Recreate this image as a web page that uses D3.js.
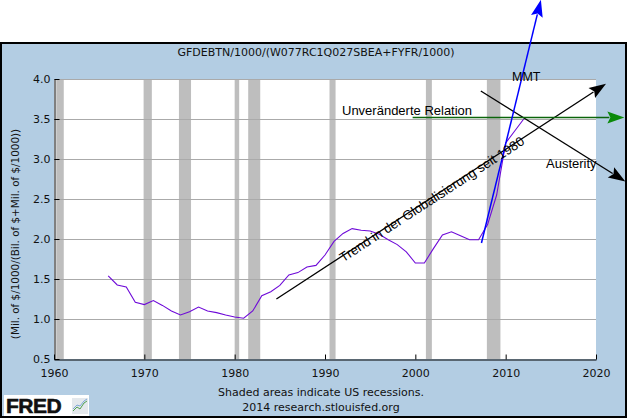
<!DOCTYPE html>
<html>
<head>
<meta charset="utf-8">
<script src="https://cdn.jsdelivr.net/npm/d3@7"></script>
<style>
  html, body { margin: 0; padding: 0; background: #fff; }
  svg { display: block; }
</style>
</head>
<body>
<svg id="chart" width="630" height="420"></svg>
<script>
// ---------------- DATA ----------------
const years = [1966,1967,1968,1969,1970,1971,1972,1973,1974,1975,1976,1977,1978,1979,
  1980,1981,1982,1983,1984,1985,1986,1987,1988,1989,1990,1991,1992,1993,1994,1995,
  1996,1997,1998,1999,2000,2001,2002,2003,2004,2005,2006,2007,2008,2009,2010,2011,2012];
const values = [1.54,1.425,1.40,1.21,1.18,1.23,1.17,1.10,1.05,1.09,1.15,1.10,1.08,1.05,
  1.025,1.01,1.10,1.29,1.34,1.42,1.55,1.58,1.65,1.67,1.80,1.97,2.07,2.13,2.11,2.10,
  2.06,1.99,1.93,1.84,1.70,1.70,1.88,2.05,2.09,2.04,1.99,1.99,2.18,2.55,3.20,3.35,3.50];

const recessionStarts = [1960.25,1969.92,1973.83,1980.00,1981.50,1990.50,2001.17,2007.92];
const recessionEnds   = [1961.08,1970.83,1975.17,1980.50,1982.83,1991.17,2001.83,2009.42];

const xTicks = [1960,1970,1980,1990,2000,2010,2020];
const yTicks = [0.5,1.0,1.5,2.0,2.5,3.0,3.5,4.0];

const titleText = "GFDEBTN/1000/(W077RC1Q027SBEA+FYFR/1000)";
const yLabelText = "(Mil. of $/1000/(Bil. of $+Mil. of $/1000))";
const footer1 = "Shaded areas indicate US recessions.";
const footer2 = "2014 research.stlouisfed.org";

// annotation arrows in data coordinates [year, value]
const arrowNames  = ["trend","austerity","unchanged","mmt"];
const arrowStarts = [[1984.62,1.25],[2007.25,3.85],[1999.70,3.52],[2007.32,1.95]];
const arrowEnds   = [[2021.11,3.94],[2023.25,2.72],[2023.14,3.52],[2013.90,4.99]];
const arrowLabels = ["Trend in der Globalisierung seit 1980","Austerity","Unveränderte Relation","MMT"];

// ---------------- DRAW ----------------
const svg = d3.select("#chart");
const W = 630, H = 420;
const plot = {left: 54, right: 596, top: 79, bottom: 359};

const x = d3.scaleLinear().domain([1960, 2020]).range([plot.left, plot.right]);
const y = d3.scaleLinear().domain([0.5, 4.0]).range([plot.bottom, plot.top]);

svg.append("rect").attr("width", W).attr("height", H).attr("fill", "#fff");

// frame
svg.append("rect")
  .attr("x", 1).attr("y", 43).attr("width", 625).attr("height", 374)
  .attr("fill", "#B3CDE3").attr("stroke", "#000").attr("stroke-width", 2);

// title
svg.append("text").attr("x", 316).attr("y", 56)
  .attr("text-anchor", "middle")
  .attr("font-family", "DejaVu Sans").attr("font-size", 11).attr("fill", "#111")
  .text(titleText);

// plot background
svg.append("rect")
  .attr("x", plot.left).attr("y", plot.top)
  .attr("width", plot.right - plot.left).attr("height", plot.bottom - plot.top)
  .attr("fill", "#fff");

// recessions
svg.append("g").selectAll("rect")
  .data(recessionStarts.map((s, i) => [s, recessionEnds[i]]))
  .join("rect")
  .attr("x", d => x(d[0])).attr("y", plot.top)
  .attr("width", d => x(d[1]) - x(d[0]))
  .attr("height", plot.bottom - plot.top)
  .attr("fill", "#BEBEBE");

// gridlines
svg.append("g").selectAll("line")
  .data(yTicks.filter(v => v > 0.5))
  .join("line")
  .attr("x1", plot.left).attr("x2", plot.right)
  .attr("y1", d => Math.round(y(d)) + 0.5).attr("y2", d => Math.round(y(d)) + 0.5)
  .attr("stroke", "#AAAAAA").attr("stroke-width", 1);

// series
const pts = years.map((yr, i) => [yr, values[i]]);
svg.append("path")
  .datum(pts)
  .attr("fill", "none")
  .attr("stroke", "#6E0AD8")
  .attr("stroke-width", 1.1)
  .attr("d", d3.line().x(d => x(d[0])).y(d => y(d[1])));

// axes
const xAxis = d3.axisBottom(x).tickValues(xTicks).tickFormat(d3.format("d"))
  .tickSizeInner(-5).tickSizeOuter(0).tickPadding(10);
const gx = svg.append("g").attr("transform", `translate(0,${plot.bottom + 0.5})`).call(xAxis);
gx.selectAll("text").attr("font-family", "DejaVu Sans").attr("font-size", 11).attr("fill", "#111");

const yAxis = d3.axisLeft(y).tickValues(yTicks).tickFormat(d3.format(".1f"))
  .tickSizeInner(-5).tickSizeOuter(0).tickPadding(4);
const gy = svg.append("g").attr("transform", `translate(${plot.left + 0.5},0)`).call(yAxis);
gy.selectAll("text").attr("font-family", "DejaVu Sans").attr("font-size", 11).attr("fill", "#111");
[gx, gy].forEach(g => {
  g.select(".domain").attr("stroke", "#000");
  g.selectAll(".tick line").attr("stroke", "#000");
});

// y label
svg.append("text")
  .attr("transform", "translate(19,234) rotate(-90)")
  .attr("text-anchor", "middle")
  .attr("font-family", "DejaVu Sans").attr("font-size", 10.4).attr("fill", "#111")
  .text(yLabelText);

// footer
svg.append("text").attr("x", 321).attr("y", 396).attr("text-anchor", "middle")
  .attr("font-family", "DejaVu Sans").attr("font-size", 11).attr("fill", "#111").text(footer1);
svg.append("text").attr("x", 321).attr("y", 411).attr("text-anchor", "middle")
  .attr("font-family", "DejaVu Sans").attr("font-size", 11).attr("fill", "#111").text(footer2);

// FRED logo
const logo = svg.append("g");
logo.append("rect").attr("x", 4).attr("y", 395).attr("width", 85).attr("height", 21).attr("fill", "#fff");
logo.append("text").attr("x", 6).attr("y", 413)
  .attr("font-family", "Liberation Sans").attr("font-weight", "bold").attr("font-size", 21)
  .attr("letter-spacing", -0.5).attr("fill", "#111").attr("stroke", "#111").attr("stroke-width", 0.6)
  .text("FRED");
logo.append("rect").attr("x", 72).attr("y", 398).attr("width", 16).attr("height", 16).attr("fill", "#E4E8EC");
logo.append("path").attr("d", "M73,411 L77,407 L80,409 L84,403 L87,401").attr("fill", "none").attr("stroke", "#4FA04F").attr("stroke-width", 1);
logo.append("path").attr("d", "M73,409 L77,405 L80,406 L84,401 L87,399").attr("fill", "none").attr("stroke", "#7FA7D8").attr("stroke-width", 1);

// annotation arrows
const arrowStyle = {
  trend:     {line: "#000", head: "#000", w: 1.3},
  austerity: {line: "#000", head: "#000", w: 1.3},
  unchanged: {line: "#0B650B", head: "#0A8A0A", w: 1.5},
  mmt:       {line: "#0000FF", head: "#0000FF", w: 1.5}
};
const ann = svg.append("g");
arrowNames.forEach((name, i) => {
  const st = arrowStyle[name];
  const x1 = x(arrowStarts[i][0]), y1 = y(arrowStarts[i][1]);
  const x2 = x(arrowEnds[i][0]), y2 = y(arrowEnds[i][1]);
  const ang = Math.atan2(y2 - y1, x2 - x1);
  const L = 17, hw = 6;
  const bx = x2 - L * Math.cos(ang), by = y2 - L * Math.sin(ang);
  ann.append("line").attr("x1", x1).attr("y1", y1).attr("x2", bx + 2 * Math.cos(ang)).attr("y2", by + 2 * Math.sin(ang))
    .attr("stroke", st.line).attr("stroke-width", st.w);
  const px = -Math.sin(ang), py = Math.cos(ang);
  const p = [[x2, y2], [bx + hw * px, by + hw * py], [bx + 3 * Math.cos(ang), by + 3 * Math.sin(ang)], [bx - hw * px, by - hw * py]];
  ann.append("path").attr("d", "M" + p.map(q => q.join(",")).join("L") + "Z").attr("fill", st.head);
});

// annotation labels
const lblFont = "Liberation Sans";
// trend label along the line
{
  const x1 = x(arrowStarts[0][0]), y1 = y(arrowStarts[0][1]);
  const x2 = x(arrowEnds[0][0]), y2 = y(arrowEnds[0][1]);
  const ang = Math.atan2(y2 - y1, x2 - x1);
  const along = 76, off = 6;
  const tx = x1 + along * Math.cos(ang) - off * Math.sin(ang);
  const ty = y1 + along * Math.sin(ang) + off * Math.cos(ang);
  ann.append("text")
    .attr("transform", `translate(${tx},${ty}) rotate(${ang * 180 / Math.PI})`)
    .attr("font-family", lblFont).attr("font-size", 13.3).attr("fill", "#000")
    .text(arrowLabels[0]);
}
ann.append("text").attr("x", 546).attr("y", 167.5)
  .attr("font-family", lblFont).attr("font-size", 13).attr("fill", "#000").text(arrowLabels[1]);
ann.append("text").attr("x", 342).attr("y", 114.5)
  .attr("font-family", lblFont).attr("font-size", 13).attr("fill", "#000").text(arrowLabels[2]);
ann.append("text").attr("x", 512).attr("y", 80.5)
  .attr("font-family", lblFont).attr("font-size", 12.5).attr("fill", "#000").text(arrowLabels[3]);
</script>
</body>
</html>
